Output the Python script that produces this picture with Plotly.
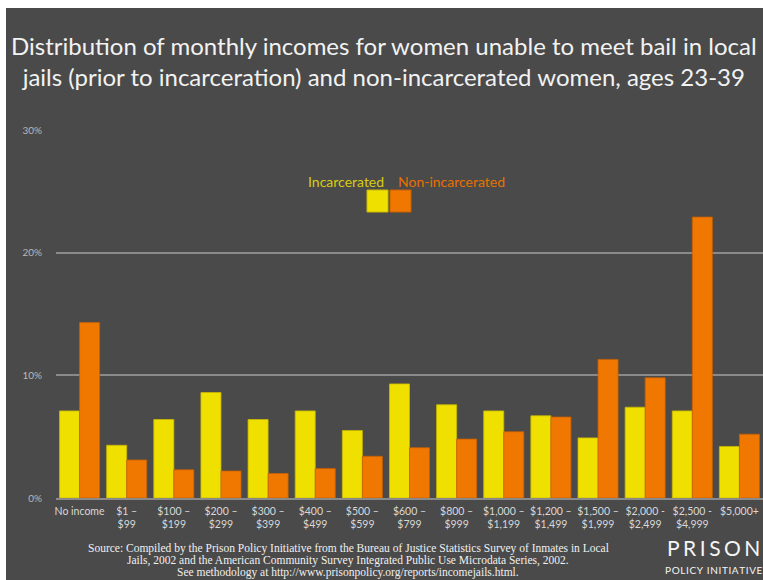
import plotly.graph_objects as go

categories = ["No income", "$1 –<br>$99", "$100 –<br>$199", "$200 –<br>$299", "$300 –<br>$399",
              "$400 –<br>$499", "$500 –<br>$599", "$600 –<br>$799", "$800 –<br>$999",
              "$1,000 –<br>$1,199", "$1,200 –<br>$1,499", "$1,500 –<br>$1,999",
              "$2,000 -<br>$2,499", "$2,500 -<br>$4,999", "$5,000+"]
incarcerated = [7.1, 4.3, 6.4, 8.6, 6.4, 7.1, 5.5, 9.3, 7.6, 7.1, 6.7, 4.9, 7.4, 7.1, 4.2]
non_incarcerated = [14.3, 3.1, 2.3, 2.2, 2.0, 2.4, 3.4, 4.1, 4.8, 5.4, 6.6, 11.3, 9.8, 22.9, 5.2]
y_ticks = [0, 10, 20, 30]
y_tick_labels = ["0%", "10%", "20%", "30%"]
source_lines = [
    "Source: Compiled by the Prison Policy Initiative from the Bureau of Justice Statistics Survey of Inmates in Local",
    "Jails, 2002 and the American Community Survey Integrated Public Use Microdata Series, 2002.",
    "See methodology at http://www.prisonpolicy.org/reports/incomejails.html.",
]

YELLOW = "#EFE000"
ORANGE = "#F07800"
BG = "#4a4a4a"

W, H = 763, 580
PL, PR, PT, PB = 56, 763, 130, 498  # plot area in page pixels


def px(x):
    return (x - PL) / (PR - PL)


def py(y):
    return (PB - y) / (PB - PT)


def spaced(s, sep):
    return sep.join(s)


fig = go.Figure()
fig.add_trace(go.Bar(x=categories, y=incarcerated, name="Incarcerated",
                     marker=dict(color=YELLOW, line=dict(color="#c9b800", width=0.8))))
fig.add_trace(go.Bar(x=categories, y=non_incarcerated, name="Non-incarcerated",
                     marker=dict(color=ORANGE, line=dict(color="#c86000", width=0.8))))

shapes = [
    dict(type="rect", xref="paper", yref="paper", x0=px(6), x1=px(763), y0=py(580), y1=py(8),
         fillcolor=BG, line=dict(width=0), layer="below"),
    dict(type="rect", xref="paper", yref="paper", x0=px(367), x1=px(388), y0=py(212), y1=py(190),
         fillcolor=YELLOW, line=dict(color="#c9b800", width=1)),
    dict(type="rect", xref="paper", yref="paper", x0=px(390), x1=px(411), y0=py(212), y1=py(190),
         fillcolor=ORANGE, line=dict(color="#c86000", width=1)),
]

annotations = [
    dict(text="Distribution of monthly incomes for women unable to meet bail in local<br>"
              "jails (prior to incarceration) and non-incarcerated women, ages 23-39",
         xref="paper", yref="paper", x=px(384), y=py(61), xanchor="center", yanchor="middle",
         showarrow=False, align="center",
         font=dict(family="Lato", size=24, color="#f2f2f2")),
    dict(text="Incarcerated", xref="paper", yref="paper", x=px(386), y=py(181),
         xanchor="right", yanchor="middle", showarrow=False,
         font=dict(family="Lato", size=14, color="#d8cc10")),
    dict(text="Non-incarcerated", xref="paper", yref="paper", x=px(396), y=py(181),
         xanchor="left", yanchor="middle", showarrow=False,
         font=dict(family="Lato", size=14, color="#e87000")),
    dict(text=spaced("PRISON", "\u2006"), xref="paper", yref="paper", x=px(762), y=py(547),
         xanchor="right", yanchor="middle", showarrow=False,
         font=dict(family="Lato", size=21, color="#f5f5f5")),
    dict(text=spaced("POLICY INITIATIVE", "\u200a"), xref="paper", yref="paper", x=px(765), y=py(570),
         xanchor="right", yanchor="middle", showarrow=False,
         font=dict(family="Lato", size=10, color="#f5f5f5")),
]
for i, line in enumerate(source_lines):
    annotations.append(dict(text=line, xref="paper", yref="paper", x=px(348), y=py(548 + 12 * i),
                            xanchor="center", yanchor="middle", showarrow=False,
                            font=dict(family="Liberation Serif", size=11.5, color="#f0f0f0")))

fig.update_layout(
    width=W, height=H,
    paper_bgcolor="white", plot_bgcolor="rgba(0,0,0,0)",
    margin=dict(l=PL, r=W - PR, t=PT, b=H - PB, pad=0),
    barmode="group", bargap=0.15, bargroupgap=0,
    showlegend=False,
    shapes=shapes, annotations=annotations,
    font=dict(family="Lato", color="#d0d0d0"),
    xaxis=dict(showgrid=False, tickfont=dict(size=10.5, color="#d8d8d8"), ticks="",
               tickangle=0, automargin=False,
               showline=True, linecolor="#8a8a8a", linewidth=2, ticklabelstandoff=2),
    yaxis=dict(range=[0, 30], tickvals=y_ticks, ticktext=y_tick_labels,
               showgrid=True, gridcolor="#8a8a8a", gridwidth=2, zeroline=False,
               automargin=False,
               tickfont=dict(size=10, color="#b8b8b8"), ticklabelstandoff=13),
)

fig.write_html(
    "out.html",
    config={"displayModeBar": False},
    post_script="document.body.style.margin='0';document.documentElement.style.overflow='hidden';document.body.style.overflow='hidden';",
)
